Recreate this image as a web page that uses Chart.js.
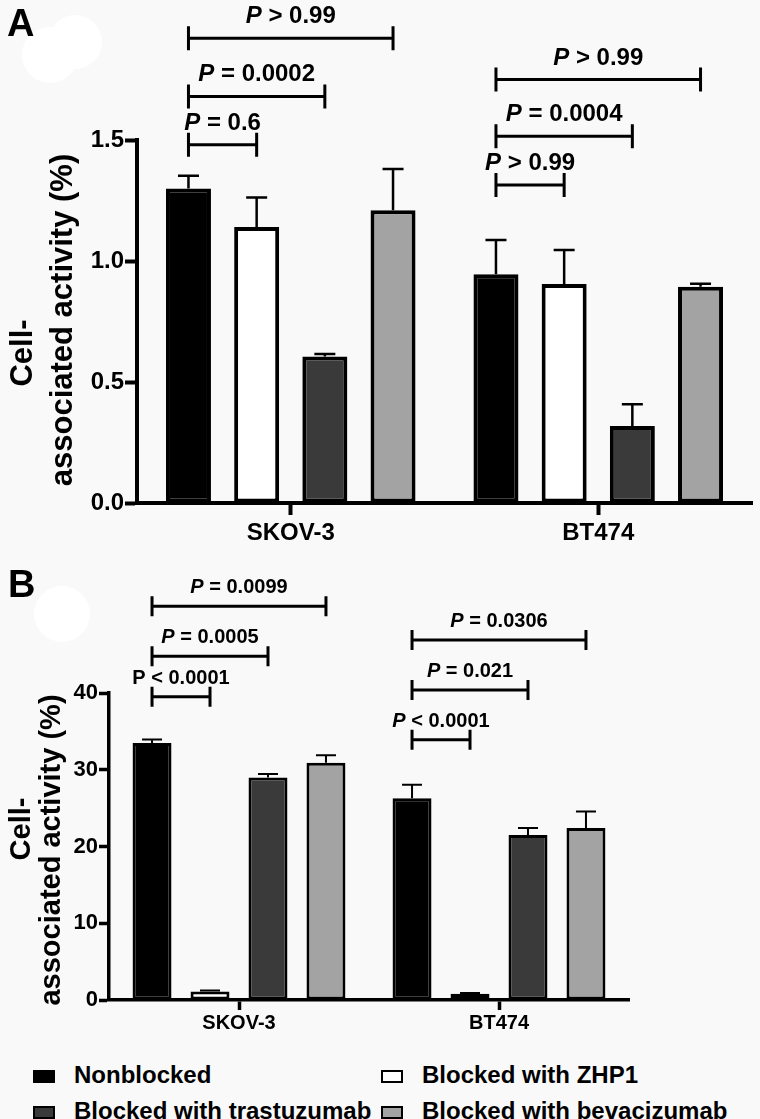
<!DOCTYPE html>
<html lang="en">
  <head>
    <meta charset="UTF-8" />
    <title>Cell-associated activity</title>
    <script src="https://cdn.jsdelivr.net/npm/chart.js"></script>
    <style>
      body { margin: 0; background: #f9f9f9; }
      #fig { position: relative; width: 760px; height: 1119px; overflow: hidden; font-family: "Liberation Sans", Arial, sans-serif; }
      #fig canvas { position: absolute; left: 0; }
      .blob { position: absolute; background: #fff; border-radius: 50%; }
      .panel { position: absolute; font-weight: bold; font-size: 38px; line-height: 38px; color: #000; }
      .item { position: absolute; font-weight: bold; font-size: 24px; line-height: 24px; white-space: nowrap; padding-left: 41px; color: #000; }
      .item .box { position: absolute; left: 0; top: 7px; width: 22px; height: 13px; border: 2px solid #000; box-sizing: border-box; }
    </style>
  </head>
  <body>
    <div id="fig">
      <!-- white spots left from the original figure -->
      <div class="blob" style="left:22px;top:27px;width:56px;height:56px"></div>
      <div class="blob" style="left:48px;top:15px;width:54px;height:54px"></div>
      <div class="blob" style="left:34px;top:586px;width:56px;height:56px"></div>

      <canvas id="chartA" width="760" height="555" style="top:0"></canvas>
      <canvas id="chartB" width="760" height="490" style="top:555px"></canvas>

      <div class="panel" style="left:7px;top:4px">A</div>
      <div class="panel" style="left:8px;top:565px">B</div>
      <div id="legend"></div>
    </div>

    <script>
      const categories = ['SKOV-3', 'BT474'];
      const seriesLabels = ['Nonblocked', 'Blocked with ZHP1', 'Blocked with trastuzumab', 'Blocked with bevacizumab'];
      const seriesColors = ['#000000', '#ffffff', '#3a3a3a', '#a3a3a3'];

      // Panel A - mean and SD per series (SKOV-3, BT474)
      const nonblockedA = [1.30, 0.945];
      const zhp1A = [1.14, 0.905];
      const trastuzumabA = [0.605, 0.318];
      const bevacizumabA = [1.21, 0.894];
      const nonblockedErrA = [0.052, 0.142];
      const zhp1ErrA = [0.122, 0.14];
      const trastuzumabErrA = [0.011, 0.09];
      const bevacizumabErrA = [0.17, 0.012];
      const yTicksA = [0, 0.5, 1.0, 1.5];

      // Panel A - comparisons (category, compared series, height, text)
      const bracketCatA = [0, 0, 0, 1, 1, 1];
      const bracketToA = [3, 2, 1, 3, 2, 1];
      const bracketLevelA = [1.92, 1.68, 1.48, 1.75, 1.515, 1.314];
      const bracketTextA = [' > 0.99', ' = 0.0002', ' = 0.6', ' > 0.99', ' = 0.0004', ' > 0.99'];
      const bracketItalicA = [true, true, true, true, true, true];

      // Panel B
      const nonblockedB = [33.5, 26.3];
      const zhp1B = [1.1, 0.8];
      const trastuzumabB = [29.0, 21.5];
      const bevacizumabB = [30.9, 22.4];
      const nonblockedErrB = [0.45, 1.75];
      const zhp1ErrB = [0.15, 0.1];
      const trastuzumabErrB = [0.45, 0.9];
      const bevacizumabErrB = [1.0, 2.15];
      const yTicksB = [0, 10, 20, 30, 40];

      const bracketCatB = [0, 0, 0, 1, 1, 1];
      const bracketToB = [3, 2, 1, 3, 2, 1];
      const bracketLevelB = [51.3, 44.8, 39.5, 46.9, 40.4, 33.9];
      const bracketTextB = [' = 0.0099', ' = 0.0005', ' < 0.0001', ' = 0.0306', ' = 0.021', ' < 0.0001'];
      const bracketItalicB = [true, true, false, true, true, true];

      Chart.defaults.font.family = '"Liberation Sans", Arial, sans-serif';
      Chart.defaults.color = '#000';

      // error bars, p-value brackets and the two-line y title
      const marks = {
        id: 'marks',
        afterDatasetsDraw(chart, args, o) {
          const ctx = chart.ctx;
          const y = chart.scales.y;
          ctx.save();
          ctx.strokeStyle = '#000';
          ctx.fillStyle = '#000';

          chart.data.datasets.forEach((ds, i) => {
            chart.getDatasetMeta(i).data.forEach((bar, j) => {
              const top = y.getPixelForValue(ds.data[j] + o.errors[i][j]);
              ctx.lineWidth = o.errWidth;
              ctx.beginPath();
              ctx.moveTo(bar.x, bar.y);
              ctx.lineTo(bar.x, top);
              ctx.moveTo(bar.x - o.cap / 2, top);
              ctx.lineTo(bar.x + o.cap / 2, top);
              ctx.stroke();
            });
          });

          const b = o.brackets;
          b.levels.forEach((lv, k) => {
            const x1 = chart.getDatasetMeta(0).data[b.cats[k]].x;
            const x2 = chart.getDatasetMeta(b.to[k]).data[b.cats[k]].x;
            const yy = y.getPixelForValue(lv);
            ctx.lineWidth = 3;
            ctx.beginPath();
            ctx.moveTo(x1, yy); ctx.lineTo(x2, yy);
            ctx.moveTo(x1, yy - b.tick); ctx.lineTo(x1, yy + b.tick);
            ctx.moveTo(x2, yy - b.tick); ctx.lineTo(x2, yy + b.tick);
            ctx.stroke();

            const pFont = (b.italic[k] ? 'italic ' : '') + 'bold ' + b.size + 'px "Liberation Sans", Arial';
            const rFont = 'bold ' + b.size + 'px "Liberation Sans", Arial';
            ctx.font = pFont;
            const wP = ctx.measureText('P').width;
            ctx.font = rFont;
            const wR = ctx.measureText(b.text[k]).width;
            const x0 = (x1 + x2) / 2 - (wP + wR) / 2;
            ctx.textBaseline = 'alphabetic';
            ctx.textAlign = 'left';
            ctx.font = pFont;
            ctx.fillText('P', x0, yy - b.gap);
            ctx.font = rFont;
            ctx.fillText(b.text[k], x0 + wP, yy - b.gap);
          });

          ctx.font = 'bold ' + o.title.size + 'px "Liberation Sans", Arial';
          ctx.textAlign = 'center';
          o.title.lines.forEach(l => {
            ctx.save();
            ctx.translate(l.x, l.y);
            ctx.rotate(-Math.PI / 2);
            ctx.fillText(l.text, 0, 0);
            ctx.restore();
          });
          ctx.restore();
        }
      };

      function buildChart(id, p) {
        return new Chart(document.getElementById(id), {
          type: 'bar',
          data: {
            labels: categories,
            datasets: p.series.map((vals, i) => ({
              label: seriesLabels[i],
              data: vals,
              backgroundColor: seriesColors[i],
              borderColor: '#000',
              borderWidth: p.barBorder,
              borderSkipped: false,
              barPercentage: p.barPct,
              categoryPercentage: p.catPct
            }))
          },
          options: {
            responsive: false,
            animation: false,
            devicePixelRatio: 1,
            events: [],
            layout: { padding: { top: p.top, right: p.right, left: 0, bottom: 0 } },
            plugins: {
              legend: { display: false },
              tooltip: { enabled: false },
              marks: { errors: p.errors, cap: p.cap, errWidth: p.errWidth, brackets: p.brackets, title: p.title }
            },
            scales: {
              x: {
                offset: true,
                grid: { display: true, offset: false, drawOnChartArea: false, tickLength: p.tickLen, tickWidth: p.axisWidth, tickColor: '#000', color: '#000' },
                border: { color: '#000', width: p.axisWidth, z: 1 },
                ticks: { font: { size: p.xFont, weight: 'bold' }, padding: p.xPad, maxRotation: 0 },
                afterFit: s => { s.height = p.xHeight; }
              },
              y: {
                min: 0,
                max: p.yTicks[p.yTicks.length - 1],
                grid: { display: true, drawOnChartArea: false, tickLength: p.tickLen, tickWidth: p.axisWidth, tickColor: '#000', color: '#000' },
                border: { color: '#000', width: p.axisWidth, z: 1 },
                ticks: { font: { size: p.yFont, weight: 'bold' }, padding: 1, callback: v => v.toFixed(p.decimals) },
                afterBuildTicks: s => { s.ticks = p.yTicks.map(v => ({ value: v })); },
                afterFit: s => { s.width = p.left; }
              }
            }
          },
          plugins: [marks]
        });
      }

      buildChart('chartA', {
        series: [nonblockedA, zhp1A, trastuzumabA, bevacizumabA],
        errors: [nonblockedErrA, zhp1ErrA, trastuzumabErrA, bevacizumabErrA],
        yTicks: yTicksA, decimals: 1,
        barBorder: 4, barPct: 0.66, catPct: 0.887,
        cap: 21, errWidth: 2.5,
        top: 140, right: 8, left: 137, xHeight: 52,
        axisWidth: 4, tickLen: 12, xFont: 24, yFont: 24, xPad: 4,
        brackets: { cats: bracketCatA, to: bracketToA, levels: bracketLevelA, text: bracketTextA, italic: bracketItalicA, tick: 12, gap: 15, size: 24 },
        title: { size: 31, lines: [{ text: 'Cell-', x: 32, y: 353 }, { text: 'associated activity (%)', x: 72, y: 320 }] }
      });

      buildChart('chartB', {
        series: [nonblockedB, zhp1B, trastuzumabB, bevacizumabB],
        errors: [nonblockedErrB, zhp1ErrB, trastuzumabErrB, bevacizumabErrB],
        yTicks: yTicksB, decimals: 0,
        barBorder: 3, barPct: 0.672, catPct: 0.892,
        cap: 20, errWidth: 2,
        top: 138, right: 131, left: 109, xHeight: 45,
        axisWidth: 3.5, tickLen: 10, xFont: 20, yFont: 22, xPad: 1,
        brackets: { cats: bracketCatB, to: bracketToB, levels: bracketLevelB, text: bracketTextB, italic: bracketItalicB, tick: 10, gap: 13, size: 20 },
        title: { size: 29, lines: [{ text: 'Cell-', x: 30, y: 274 }, { text: 'associated activity (%)', x: 60, y: 295 }] }
      });

      // shared legend under panel B
      const legend = document.getElementById('legend');
      seriesLabels.forEach((lab, i) => {
        const item = document.createElement('div');
        item.className = 'item';
        item.style.left = (33 + (i % 2) * 348) + 'px';
        item.style.top = (1063 + Math.floor(i / 2) * 36) + 'px';
        item.innerHTML = '<span class="box" style="background:' + seriesColors[i] + '"></span>' + lab;
        legend.appendChild(item);
      });
    </script>
  </body>
</html>
